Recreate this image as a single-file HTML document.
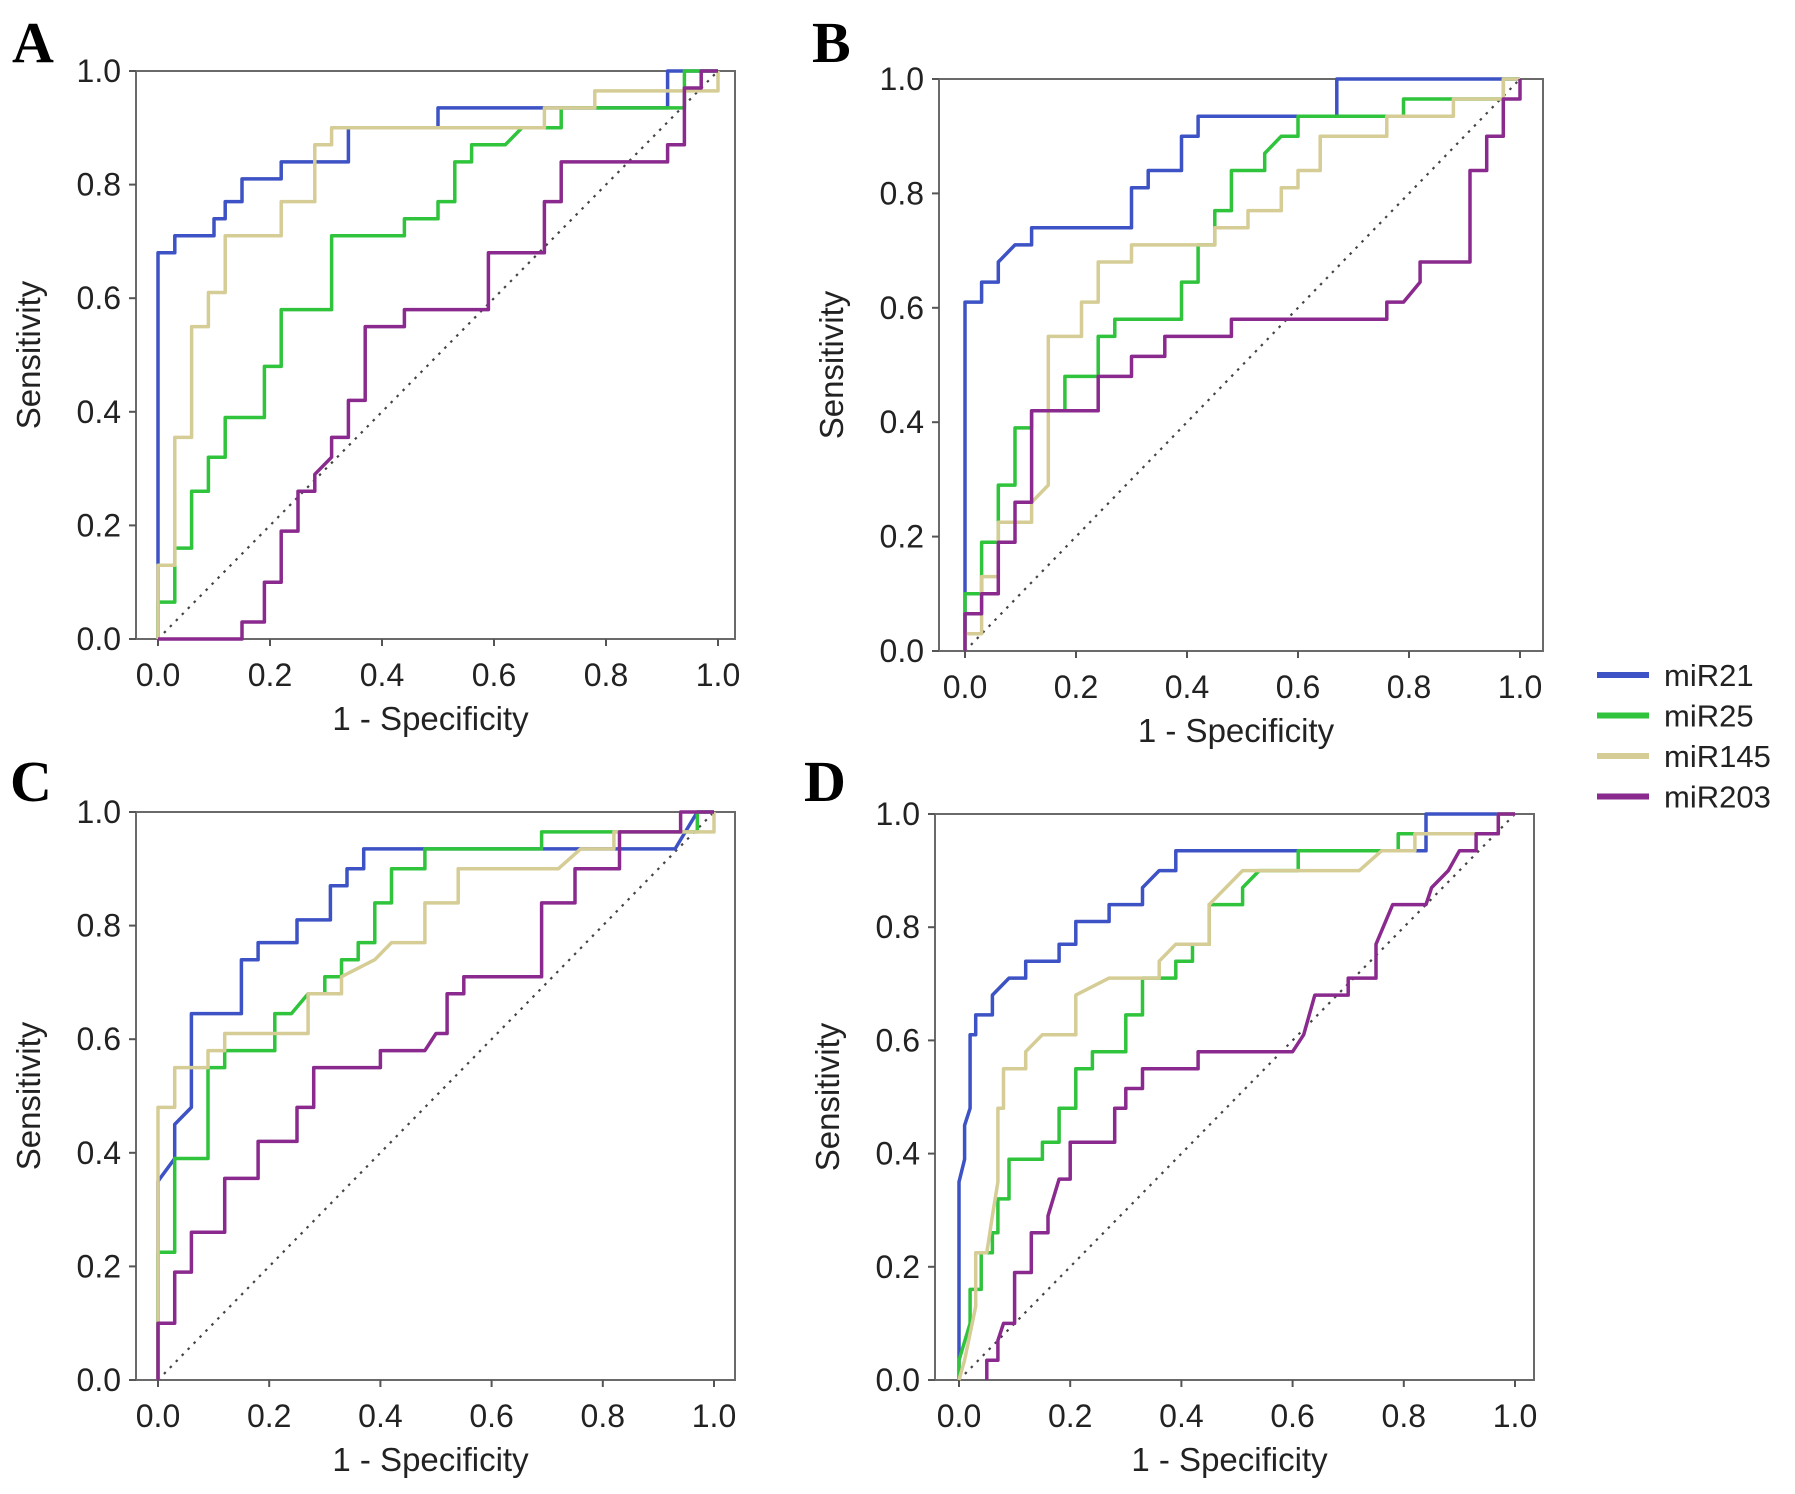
<!DOCTYPE html>
<html><head><meta charset="utf-8"><style>
body{margin:0;background:#fff}
svg{display:block;font-family:"Liberation Sans",sans-serif}
</style></head><body>
<svg id="fig" width="1795" height="1494" viewBox="0 0 1795 1494">
<g id="legend"></g>
</svg>
<script>
const seriesNames=["miR21","miR25","miR145","miR203"];
const seriesColors=["#3d52c4","#2fc43c","#d5cd95","#8b2a8e"];
const xTicks=[0,0.2,0.4,0.6,0.8,1.0];
const yTicks=[0,0.2,0.4,0.6,0.8,1.0];
const tickLabels=["0.0","0.2","0.4","0.6","0.8","1.0"];
const A_miR21=[[0,0],[0,0.13],[0,0.68],[0.03,0.68],[0.03,0.71],[0.1,0.71],[0.1,0.74],[0.12,0.74],[0.12,0.77],[0.15,0.77],[0.15,0.81],[0.22,0.81],[0.22,0.84],[0.34,0.84],[0.34,0.9],[0.5,0.9],[0.5,0.935],[0.91,0.935],[0.91,1],[1,1]];
const A_miR25=[[0,0],[0,0.065],[0.03,0.065],[0.03,0.16],[0.06,0.16],[0.06,0.26],[0.09,0.26],[0.09,0.32],[0.12,0.32],[0.12,0.39],[0.19,0.39],[0.19,0.48],[0.22,0.48],[0.22,0.58],[0.31,0.58],[0.31,0.71],[0.44,0.71],[0.44,0.74],[0.5,0.74],[0.5,0.77],[0.53,0.77],[0.53,0.84],[0.56,0.84],[0.56,0.87],[0.62,0.87],[0.65,0.9],[0.72,0.9],[0.72,0.935],[0.94,0.935],[0.94,1],[1,1]];
const A_miR145=[[0,0],[0,0.13],[0.03,0.13],[0.03,0.355],[0.06,0.355],[0.06,0.55],[0.09,0.55],[0.09,0.61],[0.12,0.61],[0.12,0.71],[0.22,0.71],[0.22,0.77],[0.28,0.77],[0.28,0.87],[0.31,0.87],[0.31,0.9],[0.69,0.9],[0.69,0.935],[0.78,0.935],[0.78,0.965],[1,0.965],[1,1]];
const A_miR203=[[0,0],[0.15,0],[0.15,0.03],[0.19,0.03],[0.19,0.1],[0.22,0.1],[0.22,0.19],[0.25,0.19],[0.25,0.26],[0.28,0.26],[0.28,0.29],[0.31,0.32],[0.31,0.355],[0.34,0.355],[0.34,0.42],[0.37,0.42],[0.37,0.55],[0.44,0.55],[0.44,0.58],[0.59,0.58],[0.59,0.68],[0.69,0.68],[0.69,0.77],[0.72,0.77],[0.72,0.84],[0.91,0.84],[0.91,0.87],[0.94,0.87],[0.94,0.97],[0.97,0.97],[0.97,1],[1,1]];
const B_miR21=[[0,0],[0,0.61],[0.03,0.61],[0.03,0.645],[0.06,0.645],[0.06,0.68],[0.09,0.71],[0.12,0.71],[0.12,0.74],[0.3,0.74],[0.3,0.81],[0.33,0.81],[0.33,0.84],[0.39,0.84],[0.39,0.9],[0.42,0.9],[0.42,0.935],[0.67,0.935],[0.67,1],[1,1]];
const B_miR25=[[0,0],[0,0.1],[0.03,0.1],[0.03,0.19],[0.06,0.19],[0.06,0.29],[0.09,0.29],[0.09,0.39],[0.12,0.39],[0.12,0.42],[0.18,0.42],[0.18,0.48],[0.24,0.48],[0.24,0.55],[0.27,0.55],[0.27,0.58],[0.39,0.58],[0.39,0.645],[0.42,0.645],[0.42,0.71],[0.45,0.71],[0.45,0.77],[0.48,0.77],[0.48,0.84],[0.54,0.84],[0.54,0.87],[0.57,0.9],[0.6,0.9],[0.6,0.935],[0.79,0.935],[0.79,0.965],[0.97,0.965],[0.97,1],[1,1]];
const B_miR145=[[0,0],[0,0.03],[0.03,0.03],[0.03,0.13],[0.06,0.13],[0.06,0.225],[0.12,0.225],[0.12,0.26],[0.15,0.29],[0.15,0.55],[0.21,0.55],[0.21,0.61],[0.24,0.61],[0.24,0.68],[0.3,0.68],[0.3,0.71],[0.45,0.71],[0.45,0.74],[0.51,0.74],[0.51,0.77],[0.57,0.77],[0.57,0.81],[0.6,0.81],[0.6,0.84],[0.64,0.84],[0.64,0.9],[0.76,0.9],[0.76,0.935],[0.88,0.935],[0.88,0.965],[0.97,0.965],[0.97,1],[1,1]];
const B_miR203=[[0,0],[0,0.065],[0.03,0.065],[0.03,0.1],[0.06,0.1],[0.06,0.19],[0.09,0.19],[0.09,0.26],[0.12,0.26],[0.12,0.42],[0.24,0.42],[0.24,0.48],[0.3,0.48],[0.3,0.515],[0.36,0.515],[0.36,0.55],[0.48,0.55],[0.48,0.58],[0.76,0.58],[0.76,0.61],[0.79,0.61],[0.82,0.645],[0.82,0.68],[0.91,0.68],[0.91,0.84],[0.94,0.84],[0.94,0.9],[0.97,0.9],[0.97,0.965],[1,0.965],[1,1]];
const C_miR21=[[0,0],[0,0.35],[0.03,0.39],[0.03,0.45],[0.06,0.48],[0.06,0.645],[0.15,0.645],[0.15,0.74],[0.18,0.74],[0.18,0.77],[0.25,0.77],[0.25,0.81],[0.31,0.81],[0.31,0.87],[0.34,0.87],[0.34,0.9],[0.37,0.9],[0.37,0.935],[0.93,0.935],[0.97,1],[1,1]];
const C_miR25=[[0,0],[0,0.225],[0.03,0.225],[0.03,0.39],[0.09,0.39],[0.09,0.55],[0.12,0.55],[0.12,0.58],[0.21,0.58],[0.21,0.645],[0.24,0.645],[0.27,0.68],[0.3,0.68],[0.3,0.71],[0.33,0.71],[0.33,0.74],[0.36,0.74],[0.36,0.77],[0.39,0.77],[0.39,0.84],[0.42,0.84],[0.42,0.9],[0.48,0.9],[0.48,0.935],[0.69,0.935],[0.69,0.965],[0.97,0.965],[0.97,1],[1,1]];
const C_miR145=[[0,0],[0,0.1],[0,0.48],[0.03,0.48],[0.03,0.55],[0.09,0.55],[0.09,0.58],[0.12,0.58],[0.12,0.61],[0.27,0.61],[0.27,0.68],[0.33,0.68],[0.33,0.71],[0.39,0.74],[0.42,0.77],[0.48,0.77],[0.48,0.84],[0.54,0.84],[0.54,0.9],[0.72,0.9],[0.76,0.935],[0.82,0.935],[0.82,0.965],[1,0.965],[1,1]];
const C_miR203=[[0,0],[0,0.1],[0.03,0.1],[0.03,0.19],[0.06,0.19],[0.06,0.26],[0.12,0.26],[0.12,0.355],[0.18,0.355],[0.18,0.42],[0.25,0.42],[0.25,0.48],[0.28,0.48],[0.28,0.55],[0.4,0.55],[0.4,0.58],[0.48,0.58],[0.5,0.61],[0.52,0.61],[0.52,0.68],[0.55,0.68],[0.55,0.71],[0.69,0.71],[0.69,0.84],[0.75,0.84],[0.75,0.9],[0.83,0.9],[0.83,0.965],[0.94,0.965],[0.94,1],[1,1]];
const D_miR21=[[0,0],[0,0.065],[0,0.35],[0.01,0.39],[0.01,0.45],[0.02,0.48],[0.02,0.61],[0.03,0.61],[0.03,0.645],[0.06,0.645],[0.06,0.68],[0.09,0.71],[0.12,0.71],[0.12,0.74],[0.18,0.74],[0.18,0.77],[0.21,0.77],[0.21,0.81],[0.27,0.81],[0.27,0.84],[0.33,0.84],[0.33,0.87],[0.36,0.9],[0.39,0.9],[0.39,0.935],[0.84,0.935],[0.84,1],[1,1]];
const D_miR25=[[0,0],[0,0.035],[0.02,0.1],[0.02,0.16],[0.04,0.16],[0.04,0.225],[0.06,0.225],[0.06,0.26],[0.07,0.26],[0.07,0.32],[0.09,0.32],[0.09,0.39],[0.15,0.39],[0.15,0.42],[0.18,0.42],[0.18,0.48],[0.21,0.48],[0.21,0.55],[0.24,0.55],[0.24,0.58],[0.3,0.58],[0.3,0.645],[0.33,0.645],[0.33,0.71],[0.39,0.71],[0.39,0.74],[0.42,0.74],[0.42,0.77],[0.45,0.77],[0.45,0.84],[0.51,0.84],[0.51,0.87],[0.54,0.9],[0.61,0.9],[0.61,0.935],[0.79,0.935],[0.79,0.965],[0.97,0.965],[0.97,1],[1,1]];
const D_miR145=[[0,0],[0.01,0.035],[0.03,0.13],[0.03,0.225],[0.05,0.225],[0.06,0.29],[0.07,0.35],[0.07,0.48],[0.08,0.48],[0.08,0.55],[0.12,0.55],[0.12,0.58],[0.15,0.61],[0.21,0.61],[0.21,0.68],[0.27,0.71],[0.36,0.71],[0.36,0.74],[0.39,0.77],[0.45,0.77],[0.45,0.84],[0.51,0.9],[0.72,0.9],[0.76,0.935],[0.82,0.935],[0.82,0.965],[0.97,0.965],[0.97,1],[1,1]];
const D_miR203=[[0.05,0],[0.05,0.035],[0.07,0.035],[0.07,0.07],[0.08,0.1],[0.1,0.1],[0.1,0.19],[0.13,0.19],[0.13,0.26],[0.16,0.26],[0.16,0.29],[0.18,0.355],[0.2,0.355],[0.2,0.42],[0.28,0.42],[0.28,0.48],[0.3,0.48],[0.3,0.515],[0.33,0.515],[0.33,0.55],[0.43,0.55],[0.43,0.58],[0.6,0.58],[0.62,0.61],[0.64,0.68],[0.7,0.68],[0.7,0.71],[0.75,0.71],[0.75,0.77],[0.78,0.84],[0.84,0.84],[0.85,0.87],[0.88,0.9],[0.9,0.935],[0.93,0.935],[0.93,0.965],[0.97,0.965],[0.97,1],[1,1]];

const panels=[
 {id:"A",L:136,R:735,T:71,B:639,x0:158,x1:718,lx:12,ly:62,data:[A_miR21,A_miR25,A_miR145,A_miR203]},
 {id:"B",L:939,R:1543,T:79,B:651,x0:965,x1:1520,lx:812,ly:62,data:[B_miR21,B_miR25,B_miR145,B_miR203]},
 {id:"C",L:136,R:735,T:812,B:1380,x0:158,x1:714,lx:10,ly:801,data:[C_miR21,C_miR25,C_miR145,C_miR203]},
 {id:"D",L:935,R:1534,T:814,B:1380,x0:959,x1:1515,lx:804,ly:801,data:[D_miR21,D_miR25,D_miR145,D_miR203]}
];
const NS="http://www.w3.org/2000/svg";
const svg=document.getElementById('fig');
function mk(tag,attrs,parent,text){const e=document.createElementNS(NS,tag);for(const k in attrs)e.setAttribute(k,attrs[k]);if(text!==undefined)e.textContent=text;parent.appendChild(e);return e;}
panels.forEach(p=>{
 const g=mk('g',{},svg);
 
 
 const xs=v=>p.x0+v*(p.x1-p.x0);
 const ys=v=>p.B-v*(p.B-p.T);
 const lt=mk('text',{x:p.lx,y:p.ly,'font-family':'Liberation Serif,serif','font-weight':'bold','font-size':58,fill:'#000'},g,p.id);
 
 
 const fr=mk('rect',{x:p.L,y:p.T,width:p.R-p.L,height:p.B-p.T,fill:'none',stroke:'#6a6a6a','stroke-width':2},g);
 
 
 const dg=mk('line',{x1:xs(0),y1:ys(0),x2:xs(1),y2:ys(1),stroke:'#444','stroke-width':2.2,'stroke-dasharray':'2.5,6'},g);
 
 
 yTicks.forEach((v,i)=>{
  mk('line',{x1:p.L-7,x2:p.L,y1:ys(v),y2:ys(v),stroke:'#555','stroke-width':2},g);
  const t=mk('text',{x:p.L-15,y:ys(v)+11,'text-anchor':'end','font-size':32,fill:'#222'},g,tickLabels[i]);
  
  
 });
 xTicks.forEach((v,i)=>{
  mk('line',{x1:xs(v),x2:xs(v),y1:p.B,y2:p.B+7,stroke:'#555','stroke-width':2},g);
  const t=mk('text',{x:xs(v),y:p.B+47,'text-anchor':'middle','font-size':32,fill:'#222'},g,tickLabels[i]);
  
  
 });
 const xt=mk('text',{x:(p.L+p.R)/2-5,y:p.B+91,'text-anchor':'middle','font-size':33,fill:'#222'},g,'1 - Specificity');
 
 
 const cy=(p.T+p.B)/2;
 const yt=mk('text',{x:0,y:0,transform:`translate(${p.L-96},${cy}) rotate(-90)`,'text-anchor':'middle','font-size':33,fill:'#222'},g,'Sensitivity');
 
 
 p.data.forEach((s,si)=>{
  const pl=mk('polyline',{points:s.map(d=>xs(d[0]).toFixed(1)+','+ys(d[1]).toFixed(1)).join(' '),fill:'none',stroke:seriesColors[si],'stroke-width':3.5,'stroke-linejoin':'round'},g);
  
  
 });
});
const lg=document.getElementById('legend');
seriesNames.forEach((n,i)=>{
 const y=675+i*40.5;
 const l=mk('line',{x1:1597,x2:1649,y1:y,y2:y,stroke:seriesColors[i],'stroke-width':6},lg);
 
 
 const t=mk('text',{x:1664,y:y+11,'font-size':31,fill:'#222'},lg,n);
 
 
});
</script>
</body></html>
